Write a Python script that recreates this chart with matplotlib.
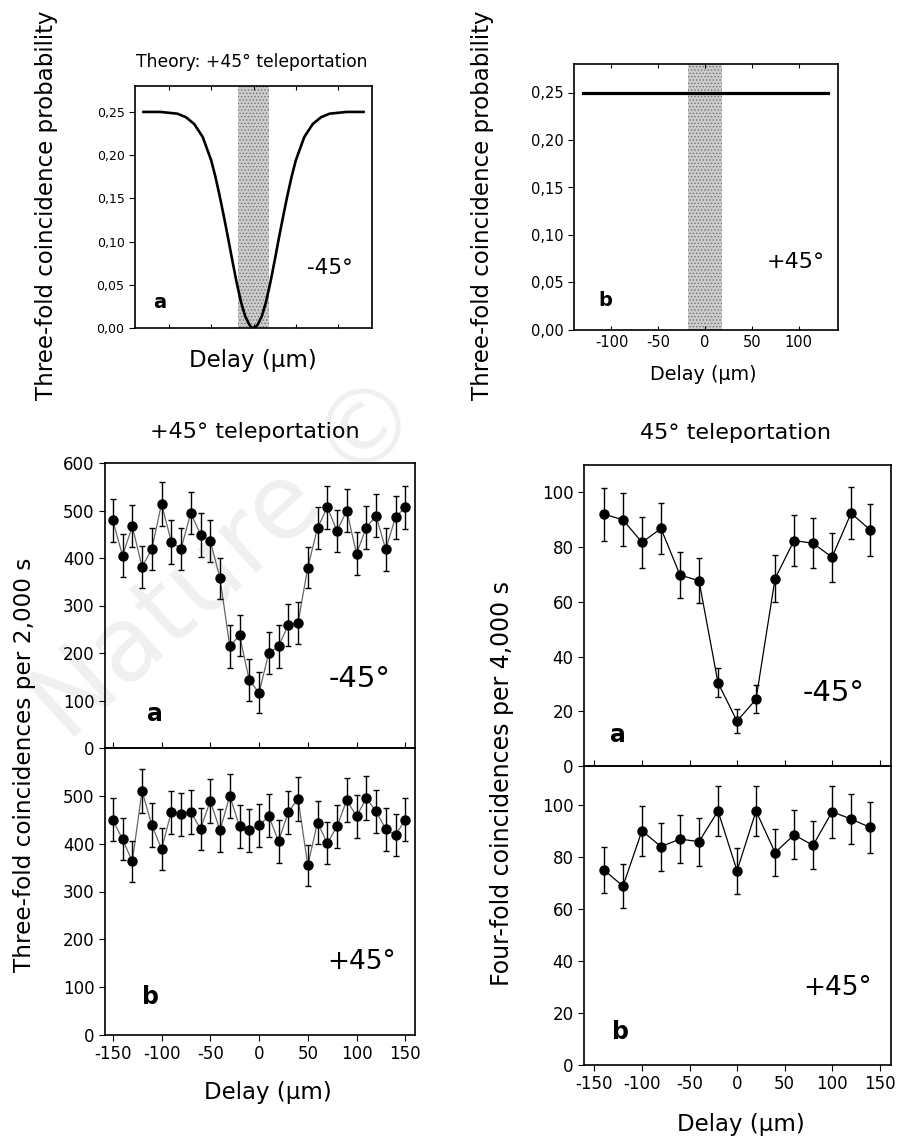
import matplotlib.pyplot as plt

plt.rcParams['font.family'] = ['DejaVu Sans']
plt.rcParams['axes.unicode_minus'] = False
plt.rcParams['axes.linewidth'] = 1.2
plt.rcParams['hatch.linewidth'] = 0.6

W, H = 899, 1139

# --- theory panels (top row) ---
theory_delay = [-130, -110, -100, -90, -80, -70, -60, -50, -45, -40, -35, -30, -25, -20, -15, -10, -5, -2.5, 0,
                2.5, 5, 10, 15, 20, 25, 30, 35, 40, 45, 50, 60, 70, 80, 90, 100, 110, 130]
theory_prob = [0.250, 0.250, 0.249, 0.248, 0.244, 0.236, 0.221, 0.194, 0.175, 0.153, 0.129, 0.104, 0.078,
               0.053, 0.031, 0.014, 0.004, 0.001, 0.000, 0.001, 0.004, 0.014, 0.031, 0.053, 0.078, 0.104,
               0.129, 0.153, 0.175, 0.194, 0.221, 0.236, 0.244, 0.248, 0.249, 0.250, 0.250]
flat_delay = [-130, 131]
flat_prob = [0.25, 0.25]
band = (-18, 18)
prob_ticks = [0.00, 0.05, 0.10, 0.15, 0.20, 0.25]
prob_labels = ['0,00', '0,05', '0,10', '0,15', '0,20', '0,25']
top_delay_ticks = [-100, -50, 0, 50, 100]

# --- three-fold coincidences (bottom left) ---
delay3 = [-150, -140, -130, -120, -110, -100, -90, -80, -70, -60, -50, -40, -30, -20, -10, 0,
          10, 20, 30, 40, 50, 60, 70, 80, 90, 100, 110, 120, 130, 140, 150]
three_m45 = [479, 405, 467, 381, 419, 514, 434, 419, 495, 449, 436, 357, 214, 237, 143, 116,
             200, 214, 259, 263, 380, 463, 507, 457, 500, 409, 464, 489, 418, 486, 507]
three_m45_err = [45, 45, 44, 45, 45, 47, 46, 45, 45, 46, 45, 44, 45, 44, 44, 43,
                 44, 45, 44, 45, 44, 45, 45, 45, 45, 45, 45, 45, 45, 45, 45]
three_p45 = [450, 409, 363, 510, 439, 389, 466, 461, 466, 431, 489, 428, 500, 436, 428, 438,
             458, 405, 466, 494, 355, 444, 401, 436, 491, 457, 495, 468, 430, 418, 450]
three_p45_err = [45, 44, 43, 46, 45, 44, 45, 45, 46, 44, 46, 45, 46, 45, 45, 45,
                 45, 45, 45, 46, 43, 45, 44, 45, 46, 45, 46, 45, 45, 44, 45]

# --- four-fold coincidences (bottom right) ---
delay4 = [-140, -120, -100, -80, -60, -40, -20, 0, 20, 40, 60, 80, 100, 120, 140]
four_m45 = [92.0, 90.0, 81.7, 86.8, 69.8, 67.7, 30.4, 16.4, 24.4, 68.5, 82.4, 81.4, 76.3, 92.4, 86.3]
four_m45_err = [9.7, 9.6, 9.2, 9.4, 8.4, 8.3, 5.3, 4.3, 5.2, 8.7, 9.3, 9.2, 9.0, 9.6, 9.4]
four_p45 = [75.0, 68.8, 90.1, 84.0, 86.9, 85.9, 97.7, 74.7, 97.7, 81.7, 88.5, 84.5, 97.4, 94.6, 91.4]
four_p45_err = [8.8, 8.5, 9.6, 9.2, 9.3, 9.2, 9.7, 8.8, 9.7, 9.0, 9.4, 9.2, 10.0, 9.7, 9.8]


def box(l, t, r, b):
    # pixel box -> figure fraction
    return [l / W, 1 - b / H, (r - l) / W, (b - t) / H]


fig = plt.figure(figsize=(W / 100, H / 100), dpi=100)
fig.patch.set_facecolor('white')


def put(x, y, s, **kw):
    fig.text(x / W, 1 - y / H, s, ha='center', va='center', **kw)


# faint watermark behind everything
fig.text(228 / W, 1 - 560 / H, 'Nature ©', rotation=42, fontsize=74, color='0.94',
         ha='center', va='center', zorder=-1)

ax_ta = fig.add_axes(box(135, 86, 372, 328))
ax_tb = fig.add_axes(box(574, 64, 838, 330))
ax_la = fig.add_axes(box(105, 463, 415, 748))
ax_lb = fig.add_axes(box(105, 748, 415, 1035), sharex=ax_la)
ax_ra = fig.add_axes(box(584, 465, 891, 766))
ax_rb = fig.add_axes(box(584, 766, 891, 1065), sharex=ax_ra)

for ax in [ax_ta, ax_tb, ax_la, ax_lb, ax_ra, ax_rb]:
    ax.set_facecolor('none')

# top panels
for ax in [ax_ta, ax_tb]:
    ax.axvspan(band[0], band[1], facecolor='0.80', edgecolor='0.45', hatch='.....', lw=0)
    ax.set_ylim(0, 0.28)
    ax.set_yticks(prob_ticks)
    ax.set_xticks(top_delay_ticks)
    ax.tick_params(axis='y', direction='out', length=4)
    ax.tick_params(axis='x', direction='in', length=3, top=True)

ax_ta.plot(theory_delay, theory_prob, color='k', lw=1.9)
ax_ta.set_xlim(-140, 140)
ax_ta.set_yticklabels(prob_labels, fontsize=9)
ax_ta.tick_params(axis='x', labelbottom=False)

ax_tb.plot(flat_delay, flat_prob, color='k', lw=2.3)
ax_tb.set_xlim(-140, 142)
ax_tb.set_yticklabels(prob_labels, fontsize=10.5)
ax_tb.tick_params(axis='x', labelsize=10.5)

put(252, 62, 'Theory: +45° teleportation', fontsize=12.3)
put(47, 205, 'Three-fold coincidence probability', fontsize=16.5, rotation=90)
put(482, 205, 'Three-fold coincidence probability', fontsize=16.5, rotation=90)
put(253, 361, 'Delay (µm)', fontsize=16.5)
put(703, 374, 'Delay (µm)', fontsize=13.8)
put(330, 268, '-45°', fontsize=15.5)
put(160, 302, 'a', fontsize=14, fontweight='bold')
put(796, 262, '+45°', fontsize=16)
put(605, 300, 'b', fontsize=14, fontweight='bold')


def data_panel(ax, x, y, err, line_color):
    ax.plot(x, y, color=line_color, lw=0.9, zorder=2)
    ax.errorbar(x, y, yerr=err, fmt='o', color='k', ms=6.5, capsize=2.5,
                elinewidth=1.0, capthick=1.0, zorder=3)
    ax.tick_params(direction='out', length=4, labelsize=12)


# bottom left: three-fold
data_panel(ax_la, delay3, three_m45, three_m45_err, '0.4')
data_panel(ax_lb, delay3, three_p45, three_p45_err, '0.4')
ax_la.set_xlim(-158, 160)
ax_la.set_ylim(0, 600)
ax_la.set_yticks([0, 100, 200, 300, 400, 500, 600])
ax_lb.set_ylim(0, 600)
ax_lb.set_yticks([0, 100, 200, 300, 400, 500])
ax_lb.set_xticks([-150, -100, -50, 0, 50, 100, 150])
ax_la.tick_params(axis='x', direction='in', labelbottom=False)

put(255, 432, '+45° teleportation', fontsize=16)
put(25, 765, 'Three-fold coincidences per 2,000 s', fontsize=16.7, rotation=90)
put(360, 679, '-45°', fontsize=21)
put(155, 714, 'a', fontsize=17, fontweight='bold')
put(362, 962, '+45°', fontsize=19)
put(150, 997, 'b', fontsize=17, fontweight='bold')
put(268, 1092, 'Delay (µm)', fontsize=16.5)

# bottom right: four-fold
data_panel(ax_ra, delay4, four_m45, four_m45_err, 'k')
data_panel(ax_rb, delay4, four_p45, four_p45_err, 'k')
ax_ra.set_xlim(-161, 162)
ax_ra.set_ylim(0, 110)
ax_ra.set_yticks([0, 20, 40, 60, 80, 100])
ax_rb.set_ylim(0, 115)
ax_rb.set_yticks([0, 20, 40, 60, 80, 100])
ax_rb.set_xticks([-150, -100, -50, 0, 50, 100, 150])
ax_ra.tick_params(axis='x', direction='in', labelbottom=False)

put(735, 433, '45° teleportation', fontsize=16)
put(502, 783, 'Four-fold coincidences per 4,000 s', fontsize=17, rotation=90)
put(834, 693, '-45°', fontsize=21)
put(618, 735, 'a', fontsize=17, fontweight='bold')
put(838, 988, '+45°', fontsize=19)
put(620, 1032, 'b', fontsize=17, fontweight='bold')
put(741, 1124, 'Delay (µm)', fontsize=16.5)

fig.savefig('out.png', dpi=100)
